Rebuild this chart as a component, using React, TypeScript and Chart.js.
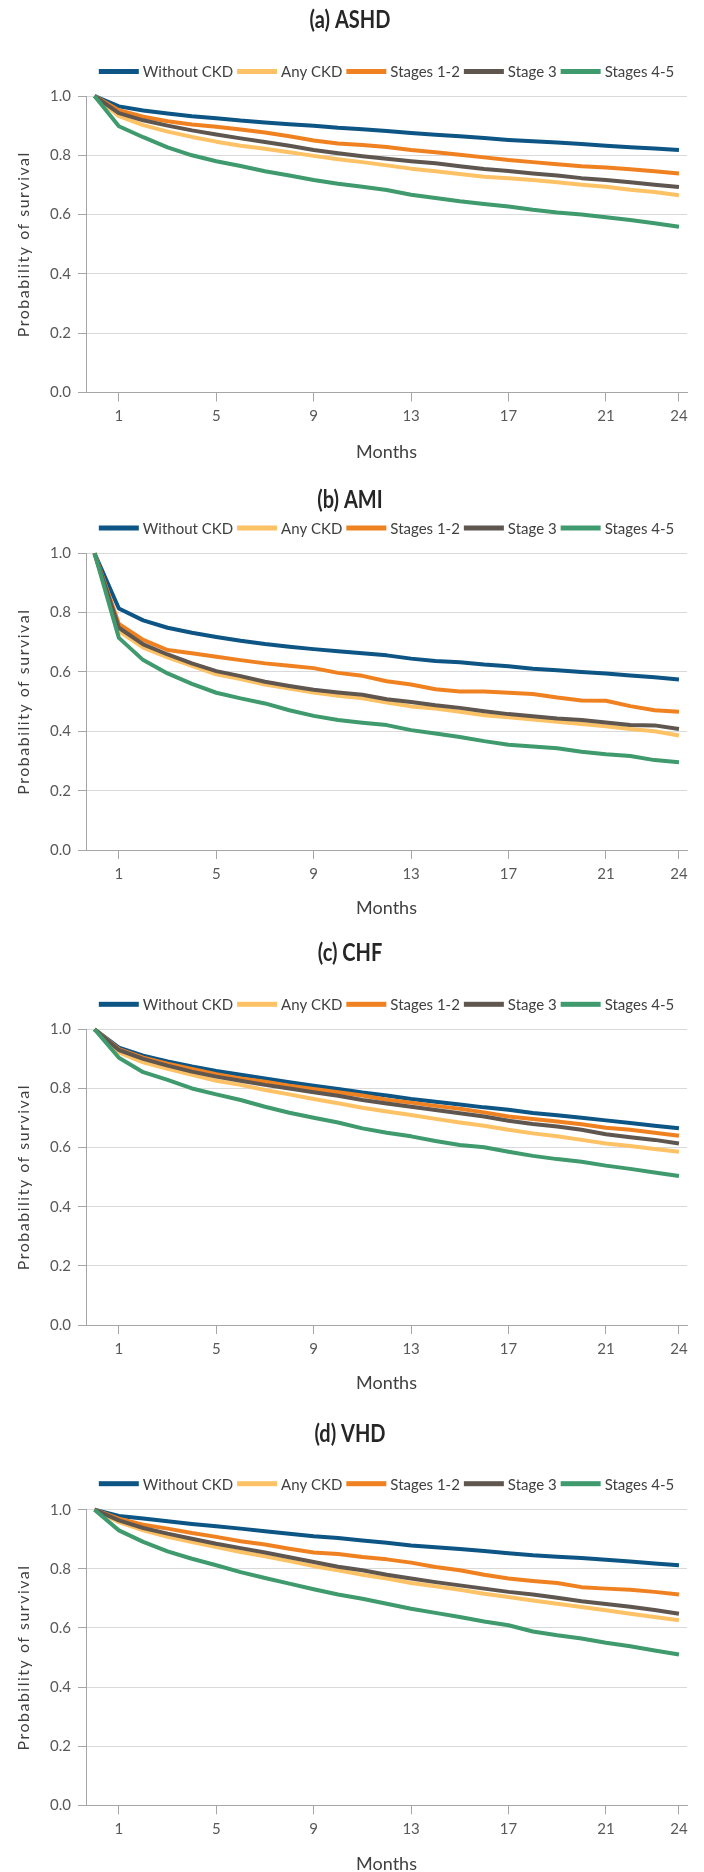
import React, { useEffect, useRef } from "react";
import { Chart, registerables } from "chart.js";
Chart.register(...registerables);

const MONTHS = [0, 1, 2, 3, 4, 5, 6, 7, 8, 9, 10, 11, 12, 13, 14, 15, 16, 17, 18, 19, 20, 21, 22, 23, 24];
const MONTH_TICKS = [1, 5, 9, 13, 17, 21, 24];
const SERIES_NAMES = ["Without CKD", "Any CKD", "Stages 1-2", "Stage 3", "Stages 4-5"];
const SERIES_COLORS = ["#0d5584", "#fdc265", "#f08121", "#5f5650", "#3f9a6e"];

const ASHD_WITHOUT = [1, 0.965, 0.951, 0.941, 0.932, 0.925, 0.917, 0.911, 0.905, 0.9, 0.893, 0.888, 0.882, 0.875, 0.869, 0.864, 0.858, 0.852, 0.847, 0.843, 0.838, 0.832, 0.827, 0.823, 0.818];
const ASHD_ANY = [1, 0.932, 0.902, 0.88, 0.862, 0.846, 0.832, 0.822, 0.81, 0.798, 0.787, 0.777, 0.766, 0.755, 0.746, 0.737, 0.728, 0.723, 0.717, 0.709, 0.701, 0.694, 0.684, 0.676, 0.665];
const ASHD_S12 = [1, 0.952, 0.93, 0.915, 0.904, 0.896, 0.887, 0.877, 0.864, 0.85, 0.84, 0.835, 0.828, 0.818, 0.81, 0.802, 0.793, 0.784, 0.777, 0.77, 0.763, 0.759, 0.753, 0.746, 0.739];
const ASHD_S3 = [1, 0.942, 0.918, 0.9, 0.884, 0.87, 0.857, 0.845, 0.832, 0.818, 0.807, 0.797, 0.788, 0.78, 0.773, 0.763, 0.754, 0.747, 0.739, 0.732, 0.723, 0.717, 0.709, 0.701, 0.693];
const ASHD_S45 = [1, 0.898, 0.861, 0.827, 0.8, 0.78, 0.764, 0.746, 0.732, 0.717, 0.704, 0.694, 0.683, 0.667, 0.656, 0.645, 0.636, 0.627, 0.616, 0.607, 0.6, 0.591, 0.582, 0.571, 0.559];

const AMI_WITHOUT = [1, 0.814, 0.774, 0.749, 0.732, 0.718, 0.705, 0.694, 0.685, 0.677, 0.67, 0.663, 0.656, 0.645, 0.637, 0.633, 0.625, 0.619, 0.611, 0.606, 0.6, 0.595, 0.588, 0.582, 0.575];
const AMI_ANY = [1, 0.738, 0.682, 0.649, 0.621, 0.592, 0.576, 0.558, 0.544, 0.531, 0.52, 0.511, 0.497, 0.484, 0.477, 0.466, 0.454, 0.447, 0.44, 0.432, 0.425, 0.417, 0.408, 0.4, 0.386];
const AMI_S12 = [1, 0.762, 0.708, 0.674, 0.663, 0.651, 0.64, 0.629, 0.621, 0.613, 0.597, 0.587, 0.569, 0.558, 0.542, 0.534, 0.534, 0.53, 0.526, 0.514, 0.504, 0.503, 0.485, 0.471, 0.466];
const AMI_S3 = [1, 0.749, 0.693, 0.659, 0.629, 0.603, 0.586, 0.567, 0.553, 0.54, 0.531, 0.523, 0.508, 0.499, 0.488, 0.479, 0.468, 0.458, 0.451, 0.443, 0.438, 0.43, 0.421, 0.42, 0.408];
const AMI_S45 = [1, 0.715, 0.64, 0.595, 0.56, 0.53, 0.511, 0.494, 0.471, 0.452, 0.438, 0.429, 0.421, 0.404, 0.393, 0.381, 0.367, 0.355, 0.349, 0.343, 0.331, 0.323, 0.317, 0.303, 0.296];

const CHF_WITHOUT = [1, 0.938, 0.911, 0.891, 0.874, 0.859, 0.846, 0.834, 0.821, 0.809, 0.798, 0.786, 0.776, 0.764, 0.755, 0.746, 0.736, 0.728, 0.717, 0.709, 0.701, 0.692, 0.683, 0.674, 0.665];
const CHF_ANY = [1, 0.922, 0.888, 0.866, 0.846, 0.826, 0.812, 0.795, 0.78, 0.764, 0.75, 0.735, 0.722, 0.71, 0.697, 0.685, 0.674, 0.66, 0.648, 0.638, 0.626, 0.614, 0.605, 0.595, 0.586];
const CHF_S12 = [1, 0.933, 0.904, 0.884, 0.866, 0.848, 0.834, 0.823, 0.809, 0.798, 0.787, 0.776, 0.762, 0.752, 0.741, 0.731, 0.719, 0.705, 0.697, 0.688, 0.679, 0.667, 0.66, 0.65, 0.64];
const CHF_S3 = [1, 0.93, 0.9, 0.877, 0.857, 0.84, 0.826, 0.812, 0.8, 0.787, 0.775, 0.761, 0.749, 0.738, 0.727, 0.716, 0.705, 0.691, 0.68, 0.671, 0.66, 0.645, 0.635, 0.626, 0.614];
const CHF_S45 = [1, 0.904, 0.855, 0.829, 0.8, 0.78, 0.761, 0.738, 0.718, 0.701, 0.685, 0.665, 0.65, 0.638, 0.622, 0.609, 0.601, 0.586, 0.572, 0.561, 0.552, 0.539, 0.528, 0.516, 0.504];

const VHD_WITHOUT = [1, 0.979, 0.97, 0.961, 0.952, 0.944, 0.936, 0.927, 0.919, 0.91, 0.904, 0.896, 0.888, 0.879, 0.873, 0.867, 0.86, 0.853, 0.846, 0.841, 0.837, 0.831, 0.825, 0.818, 0.812];
const VHD_ANY = [1, 0.958, 0.93, 0.908, 0.891, 0.874, 0.857, 0.842, 0.826, 0.809, 0.795, 0.78, 0.767, 0.752, 0.741, 0.729, 0.716, 0.705, 0.693, 0.682, 0.671, 0.66, 0.648, 0.637, 0.626];
const VHD_S12 = [1, 0.97, 0.949, 0.936, 0.921, 0.908, 0.893, 0.882, 0.868, 0.855, 0.85, 0.84, 0.832, 0.821, 0.806, 0.795, 0.78, 0.767, 0.759, 0.752, 0.738, 0.733, 0.729, 0.722, 0.713];
const VHD_S3 = [1, 0.964, 0.938, 0.919, 0.902, 0.885, 0.87, 0.855, 0.839, 0.823, 0.807, 0.795, 0.78, 0.767, 0.755, 0.744, 0.733, 0.722, 0.713, 0.702, 0.69, 0.681, 0.672, 0.661, 0.648];
const VHD_S45 = [1, 0.93, 0.891, 0.859, 0.834, 0.812, 0.789, 0.769, 0.75, 0.731, 0.713, 0.699, 0.682, 0.665, 0.651, 0.637, 0.622, 0.609, 0.588, 0.575, 0.564, 0.55, 0.538, 0.524, 0.51];

const PANEL_TITLES = ["(a) ASHD", "(b) AMI", "(c) CHF", "(d) VHD"];
const PANEL_SERIES = [
  [ASHD_WITHOUT, ASHD_ANY, ASHD_S12, ASHD_S3, ASHD_S45],
  [AMI_WITHOUT, AMI_ANY, AMI_S12, AMI_S3, AMI_S45],
  [CHF_WITHOUT, CHF_ANY, CHF_S12, CHF_S3, CHF_S45],
  [VHD_WITHOUT, VHD_ANY, VHD_S12, VHD_S3, VHD_S45],
];

// layout (px, relative to each 468px panel)
const PANEL_H = 468;
const PANEL_LAYOUT = [
  { titleY: 20, legendY: 71.5, plotTop: 96, plotBottom: 392.5, monthsY: 452 },
  { titleY: 32, legendY: 60, plotTop: 85.3, plotBottom: 382, monthsY: 440 },
  { titleY: 17, legendY: 68.3, plotTop: 93.3, plotBottom: 389, monthsY: 447.3 },
  { titleY: 29.7, legendY: 79.7, plotTop: 105.7, plotBottom: 401.3, monthsY: 459.7 },
];

const FONT = "Lato, 'Noto Sans', sans-serif";
const TITLE_SCALE_X = 0.8;

const decorPlugin = {
  id: "decor",
  afterDraw(chart: any, _args: any, opts: any) {
    const { ctx, chartArea } = chart;
    const cx = (chartArea.left + chartArea.right) / 2;
    ctx.save();
    ctx.textBaseline = "middle";
    // title (condensed bold)
    ctx.save();
    ctx.font = `bold 25px ${FONT}`;
    ctx.fillStyle = "#262626";
    ctx.textAlign = "center";
    ctx.translate(350, opts.titleY);
    ctx.scale(TITLE_SCALE_X, 1);
    ctx.fillText(opts.title, 0, 0);
    ctx.restore();
    // legend
    ctx.font = `15px ${FONT}`;
    const lineLen = 40, gapText = 4, gapItem = 4;
    const widths = SERIES_NAMES.map((n) => ctx.measureText(n).width);
    let total = 0;
    widths.forEach((w, i) => { total += lineLen + gapText + w + (i < widths.length - 1 ? gapItem : 0); });
    let x = cx - total / 2;
    ctx.textAlign = "left";
    SERIES_NAMES.forEach((n, i) => {
      ctx.fillStyle = SERIES_COLORS[i];
      ctx.fillRect(x, opts.legendY - 2.5, lineLen, 5);
      x += lineLen + gapText;
      ctx.fillStyle = "#404040";
      ctx.fillText(n, x, opts.legendY + 1);
      x += widths[i] + gapItem;
    });
    // y title
    ctx.save();
    ctx.translate(23.5, (chartArea.top + chartArea.bottom) / 2);
    ctx.rotate(-Math.PI / 2);
    ctx.textAlign = "center";
    ctx.fillStyle = "#404040";
    ctx.font = `16px ${FONT}`;
    try { (ctx as any).letterSpacing = "1.5px"; } catch (e) {}
    ctx.fillText("Probability of survival", 0, 0);
    try { (ctx as any).letterSpacing = "0px"; } catch (e) {}
    ctx.restore();
    // x title
    ctx.textAlign = "center";
    ctx.fillStyle = "#404040";
    ctx.font = `18px ${FONT}`;
    ctx.fillText("Months", cx, opts.monthsY);
    ctx.restore();
  },
};

function Panel({ index }: { index: number }) {
  const ref = useRef<HTMLCanvasElement>(null);
  useEffect(() => {
    const L = PANEL_LAYOUT[index];
    const series = PANEL_SERIES[index];
    const chart = new Chart(ref.current as HTMLCanvasElement, {
      type: "line",
      data: {
        datasets: series.map((vals, i) => ({
          label: SERIES_NAMES[i],
          data: MONTHS.map((m, k) => ({ x: m, y: vals[k] })),
          borderColor: SERIES_COLORS[i],
          backgroundColor: SERIES_COLORS[i],
          borderWidth: 4,
          pointRadius: 0,
          tension: 0,
          borderJoinStyle: "round",
          clip: false,
          order: 5 - i,
        })),
      },
      options: {
        responsive: false,
        animation: false,
        events: [],
        layout: { padding: { top: L.plotTop, right: 17, bottom: 0, left: 0 } },
        plugins: {
          legend: { display: false },
          title: { display: false },
          tooltip: { enabled: false },
          decor: { title: PANEL_TITLES[index], titleY: L.titleY, legendY: L.legendY, monthsY: L.monthsY },
        } as any,
        scales: {
          x: {
            type: "linear",
            min: -0.35,
            max: 24.33,
            afterBuildTicks: (s: any) => { s.ticks = MONTH_TICKS.map((v) => ({ value: v })); },
            afterFit: (s: any) => { s.height = PANEL_H - L.plotBottom; },
            grid: { drawOnChartArea: false, drawTicks: true, tickLength: 9, tickColor: "#a6a6a6" },
            border: { color: "#a6a6a6", width: 1 },
            ticks: {
              autoSkip: false,
              maxRotation: 0,
              padding: 6,
              color: "#595959",
              font: { family: FONT, size: 15 },
              callback: (v: any) => String(v),
            },
          },
          y: {
            min: 0,
            max: 1,
            afterFit: (s: any) => { s.width = 86; },
            grid: { color: "#d9d9d9", tickLength: 8, tickColor: "#a6a6a6" },
            border: { color: "#a6a6a6", width: 1 },
            ticks: {
              stepSize: 0.2,
              padding: 7,
              color: "#595959",
              font: { family: FONT, size: 15 },
              callback: (v: any) => Number(v).toFixed(1),
            },
          },
        },
      },
      plugins: [decorPlugin as any],
    });
    return () => chart.destroy();
  }, [index]);
  return (
    <canvas
      ref={ref}
      width={704}
      height={PANEL_H}
      style={{ position: "absolute", left: 0, top: index * PANEL_H, width: 704, height: PANEL_H, display: "block" }}
    />
  );
}

export default function App() {
  return (
    <div style={{ position: "absolute", left: 0, top: 0, width: 704, height: 1872, background: "#fff" }}>
      {PANEL_TITLES.map((_, i) => (
        <Panel key={i} index={i} />
      ))}
    </div>
  );
}
